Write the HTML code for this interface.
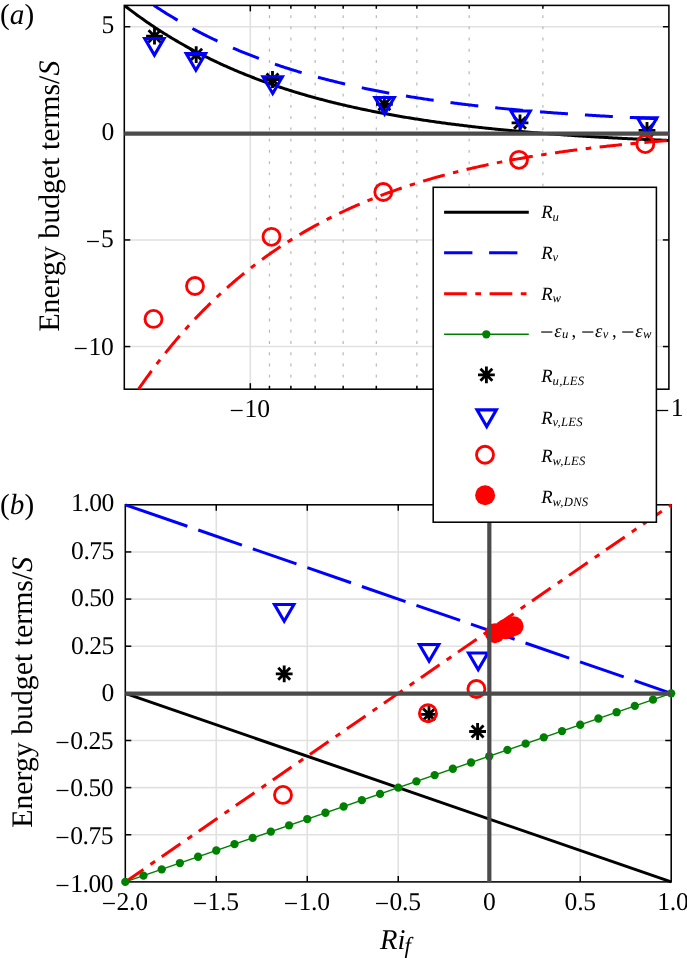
<!DOCTYPE html>
<html lang="en"><head><meta charset="utf-8"><title>Energy budget terms</title>
<style>html,body{margin:0;padding:0;background:#fff}svg{display:block;will-change:transform}text{font-family:"Liberation Serif", "DejaVu Serif", serif;fill:#000;text-rendering:geometricPrecision}</style>
</head><body>
<svg width="687" height="958" viewBox="0 0 687 958">
<rect width="687" height="958" fill="#fff"/>
<defs>
<clipPath id="ct"><rect x="124.3" y="5.4" width="544.6" height="383.8"/></clipPath>
</defs>
<g id="panel-a">
<line x1="124.3" y1="26.72" x2="668.9" y2="26.72" stroke="#e1e1e1" stroke-width="1.6"/>
<line x1="124.3" y1="239.94" x2="668.9" y2="239.94" stroke="#e1e1e1" stroke-width="1.6"/>
<line x1="124.3" y1="346.56" x2="668.9" y2="346.56" stroke="#e1e1e1" stroke-width="1.6"/>
<line x1="250.31" y1="5.4" x2="250.31" y2="389.2" stroke="#e1e1e1" stroke-width="1.6"/>
<line x1="269.46" y1="5.4" x2="269.46" y2="389.2" stroke="#b8b8b8" stroke-width="1.2" stroke-dasharray="2.8 8.44" stroke-dashoffset="1.5"/>
<line x1="290.87" y1="5.4" x2="290.87" y2="389.2" stroke="#b8b8b8" stroke-width="1.2" stroke-dasharray="2.8 8.44" stroke-dashoffset="1.5"/>
<line x1="315.15" y1="5.4" x2="315.15" y2="389.2" stroke="#b8b8b8" stroke-width="1.2" stroke-dasharray="2.8 8.44" stroke-dashoffset="1.5"/>
<line x1="343.17" y1="5.4" x2="343.17" y2="389.2" stroke="#b8b8b8" stroke-width="1.2" stroke-dasharray="2.8 8.44" stroke-dashoffset="1.5"/>
<line x1="376.32" y1="5.4" x2="376.32" y2="389.2" stroke="#b8b8b8" stroke-width="1.2" stroke-dasharray="2.8 8.44" stroke-dashoffset="1.5"/>
<line x1="416.88" y1="5.4" x2="416.88" y2="389.2" stroke="#b8b8b8" stroke-width="1.2" stroke-dasharray="2.8 8.44" stroke-dashoffset="1.5"/>
<line x1="469.18" y1="5.4" x2="469.18" y2="389.2" stroke="#b8b8b8" stroke-width="1.2" stroke-dasharray="2.8 8.44" stroke-dashoffset="1.5"/>
<line x1="542.89" y1="5.4" x2="542.89" y2="389.2" stroke="#b8b8b8" stroke-width="1.2" stroke-dasharray="2.8 8.44" stroke-dashoffset="1.5"/>
<rect x="124.3" y="5.4" width="544.6" height="383.8" fill="none" stroke="#000" stroke-width="1.55"/>
<line x1="124.3" y1="26.72" x2="130.3" y2="26.72" stroke="#000" stroke-width="1.5"/>
<line x1="668.9" y1="26.72" x2="662.9" y2="26.72" stroke="#000" stroke-width="1.5"/>
<line x1="124.3" y1="133.33" x2="130.3" y2="133.33" stroke="#000" stroke-width="1.5"/>
<line x1="668.9" y1="133.33" x2="662.9" y2="133.33" stroke="#000" stroke-width="1.5"/>
<line x1="124.3" y1="239.94" x2="130.3" y2="239.94" stroke="#000" stroke-width="1.5"/>
<line x1="668.9" y1="239.94" x2="662.9" y2="239.94" stroke="#000" stroke-width="1.5"/>
<line x1="124.3" y1="346.56" x2="130.3" y2="346.56" stroke="#000" stroke-width="1.5"/>
<line x1="668.9" y1="346.56" x2="662.9" y2="346.56" stroke="#000" stroke-width="1.5"/>
<line x1="250.31" y1="5.4" x2="250.31" y2="11.4" stroke="#000" stroke-width="1.5"/>
<line x1="250.31" y1="389.2" x2="250.31" y2="383.2" stroke="#000" stroke-width="1.5"/>
<line x1="269.46" y1="5.4" x2="269.46" y2="8.8" stroke="#000" stroke-width="1.5"/>
<line x1="269.46" y1="389.2" x2="269.46" y2="385.8" stroke="#000" stroke-width="1.5"/>
<line x1="290.87" y1="5.4" x2="290.87" y2="8.8" stroke="#000" stroke-width="1.5"/>
<line x1="290.87" y1="389.2" x2="290.87" y2="385.8" stroke="#000" stroke-width="1.5"/>
<line x1="315.15" y1="5.4" x2="315.15" y2="8.8" stroke="#000" stroke-width="1.5"/>
<line x1="315.15" y1="389.2" x2="315.15" y2="385.8" stroke="#000" stroke-width="1.5"/>
<line x1="343.17" y1="5.4" x2="343.17" y2="8.8" stroke="#000" stroke-width="1.5"/>
<line x1="343.17" y1="389.2" x2="343.17" y2="385.8" stroke="#000" stroke-width="1.5"/>
<line x1="376.32" y1="5.4" x2="376.32" y2="8.8" stroke="#000" stroke-width="1.5"/>
<line x1="376.32" y1="389.2" x2="376.32" y2="385.8" stroke="#000" stroke-width="1.5"/>
<line x1="416.88" y1="5.4" x2="416.88" y2="8.8" stroke="#000" stroke-width="1.5"/>
<line x1="416.88" y1="389.2" x2="416.88" y2="385.8" stroke="#000" stroke-width="1.5"/>
<line x1="469.18" y1="5.4" x2="469.18" y2="8.8" stroke="#000" stroke-width="1.5"/>
<line x1="469.18" y1="389.2" x2="469.18" y2="385.8" stroke="#000" stroke-width="1.5"/>
<line x1="542.89" y1="5.4" x2="542.89" y2="8.8" stroke="#000" stroke-width="1.5"/>
<line x1="542.89" y1="389.2" x2="542.89" y2="385.8" stroke="#000" stroke-width="1.5"/>
<g clip-path="url(#ct)" fill="none" stroke-width="3">
<path d="M124.3 5.4L125.66 6.46L127.02 7.51L128.38 8.56L129.75 9.6L131.11 10.62L132.47 11.65L133.83 12.66L135.19 13.67L136.55 14.67L137.92 15.66L139.28 16.64L140.64 17.62L142 18.59L143.36 19.55L144.72 20.5L146.08 21.45L147.45 22.39L148.81 23.33L150.17 24.25L151.53 25.17L152.89 26.09L154.25 26.99L155.61 27.89L156.98 28.79L158.34 29.67L159.7 30.55L161.06 31.42L162.42 32.29L163.78 33.15L165.15 34L166.51 34.85L167.87 35.69L169.23 36.53L170.59 37.36L171.95 38.18L173.31 38.99L174.68 39.8L176.04 40.61L177.4 41.41L178.76 42.2L180.12 42.98L181.48 43.76L182.84 44.54L184.21 45.31L185.57 46.07L186.93 46.83L188.29 47.58L189.65 48.32L191.01 49.06L192.38 49.8L193.74 50.53L195.1 51.25L196.46 51.97L197.82 52.68L199.18 53.39L200.54 54.09L201.91 54.79L203.27 55.48L204.63 56.17L205.99 56.85L207.35 57.53L208.71 58.2L210.07 58.87L211.44 59.53L212.8 60.19L214.16 60.84L215.52 61.48L216.88 62.13L218.24 62.76L219.6 63.4L220.97 64.02L222.33 64.65L223.69 65.27L225.05 65.88L226.41 66.49L227.77 67.09L229.14 67.69L230.5 68.29L231.86 68.88L233.22 69.47L234.58 70.05L235.94 70.63L237.3 71.2L238.67 71.77L240.03 72.34L241.39 72.9L242.75 73.46L244.11 74.01L245.47 74.56L246.83 75.1L248.2 75.64L249.56 76.18L250.92 76.71L252.28 77.24L253.64 77.77L255 78.29L256.37 78.8L257.73 79.32L259.09 79.83L260.45 80.33L261.81 80.83L263.17 81.33L264.53 81.82L265.9 82.31L267.26 82.8L268.62 83.28L269.98 83.76L271.34 84.24L272.7 84.71L274.06 85.18L275.43 85.65L276.79 86.11L278.15 86.57L279.51 87.02L280.87 87.47L282.23 87.92L283.6 88.37L284.96 88.81L286.32 89.25L287.68 89.68L289.04 90.11L290.4 90.54L291.76 90.97L293.13 91.39L294.49 91.81L295.85 92.22L297.21 92.64L298.57 93.05L299.93 93.45L301.3 93.86L302.66 94.26L304.02 94.65L305.38 95.05L306.74 95.44L308.1 95.83L309.46 96.22L310.83 96.6L312.19 96.98L313.55 97.36L314.91 97.73L316.27 98.1L317.63 98.47L318.99 98.84L320.36 99.2L321.72 99.56L323.08 99.92L324.44 100.28L325.8 100.63L327.16 100.98L328.53 101.33L329.89 101.67L331.25 102.01L332.61 102.35L333.97 102.69L335.33 103.02L336.69 103.36L338.06 103.69L339.42 104.01L340.78 104.34L342.14 104.66L343.5 104.98L344.86 105.3L346.22 105.61L347.59 105.93L348.95 106.24L350.31 106.55L351.67 106.85L353.03 107.15L354.39 107.46L355.75 107.76L357.12 108.05L358.48 108.35L359.84 108.64L361.2 108.93L362.56 109.22L363.92 109.5L365.29 109.79L366.65 110.07L368.01 110.35L369.37 110.63L370.73 110.9L372.09 111.18L373.45 111.45L374.82 111.72L376.18 111.98L377.54 112.25L378.9 112.51L380.26 112.77L381.62 113.03L382.99 113.29L384.35 113.55L385.71 113.8L387.07 114.05L388.43 114.3L389.79 114.55L391.15 114.8L392.52 115.04L393.88 115.28L395.24 115.52L396.6 115.76L397.96 116L399.32 116.24L400.68 116.47L402.05 116.7L403.41 116.93L404.77 117.16L406.13 117.39L407.49 117.61L408.85 117.83L410.22 118.06L411.58 118.28L412.94 118.49L414.3 118.71L415.66 118.93L417.02 119.14L418.38 119.35L419.75 119.56L421.11 119.77L422.47 119.98L423.83 120.18L425.19 120.39L426.55 120.59L427.91 120.79L429.28 120.99L430.64 121.19L432 121.39L433.36 121.58L434.72 121.78L436.08 121.97L437.45 122.16L438.81 122.35L440.17 122.54L441.53 122.72L442.89 122.91L444.25 123.09L445.61 123.27L446.98 123.46L448.34 123.64L449.7 123.81L451.06 123.99L452.42 124.17L453.78 124.34L455.14 124.51L456.51 124.69L457.87 124.86L459.23 125.03L460.59 125.19L461.95 125.36L463.31 125.53L464.68 125.69L466.04 125.85L467.4 126.02L468.76 126.18L470.12 126.34L471.48 126.49L472.84 126.65L474.21 126.81L475.57 126.96L476.93 127.12L478.29 127.27L479.65 127.42L481.01 127.57L482.37 127.72L483.74 127.87L485.1 128.01L486.46 128.16L487.82 128.3L489.18 128.45L490.54 128.59L491.91 128.73L493.27 128.87L494.63 129.01L495.99 129.15L497.35 129.29L498.71 129.42L500.07 129.56L501.44 129.69L502.8 129.83L504.16 129.96L505.52 130.09L506.88 130.22L508.24 130.35L509.6 130.48L510.97 130.6L512.33 130.73L513.69 130.86L515.05 130.98L516.41 131.1L517.77 131.23L519.13 131.35L520.5 131.47L521.86 131.59L523.22 131.71L524.58 131.83L525.94 131.94L527.3 132.06L528.67 132.18L530.03 132.29L531.39 132.4L532.75 132.52L534.11 132.63L535.47 132.74L536.83 132.85L538.2 132.96L539.56 133.07L540.92 133.18L542.28 133.29L543.64 133.39L545 133.5L546.37 133.6L547.73 133.71L549.09 133.81L550.45 133.91L551.81 134.01L553.17 134.11L554.53 134.22L555.9 134.31L557.26 134.41L558.62 134.51L559.98 134.61L561.34 134.71L562.7 134.8L564.06 134.9L565.43 134.99L566.79 135.08L568.15 135.18L569.51 135.27L570.87 135.36L572.23 135.45L573.6 135.54L574.96 135.63L576.32 135.72L577.68 135.81L579.04 135.9L580.4 135.98L581.76 136.07L583.13 136.16L584.49 136.24L585.85 136.32L587.21 136.41L588.57 136.49L589.93 136.57L591.29 136.66L592.66 136.74L594.02 136.82L595.38 136.9L596.74 136.98L598.1 137.06L599.46 137.13L600.82 137.21L602.19 137.29L603.55 137.37L604.91 137.44L606.27 137.52L607.63 137.59L608.99 137.67L610.36 137.74L611.72 137.81L613.08 137.89L614.44 137.96L615.8 138.03L617.16 138.1L618.52 138.17L619.89 138.24L621.25 138.31L622.61 138.38L623.97 138.45L625.33 138.52L626.69 138.58L628.05 138.65L629.42 138.72L630.78 138.78L632.14 138.85L633.5 138.91L634.86 138.98L636.22 139.04L637.59 139.1L638.95 139.17L640.31 139.23L641.67 139.29L643.03 139.35L644.39 139.42L645.75 139.48L647.12 139.54L648.48 139.6L649.84 139.66L651.2 139.71L652.56 139.77L653.92 139.83L655.28 139.89L656.65 139.95L658.01 140L659.37 140.06L660.73 140.11L662.09 140.17L663.45 140.22L664.82 140.28L666.18 140.33L667.54 140.39L668.9 140.44" stroke="#000"/>
<path d="M153.84 5.4L155.13 6.25L156.42 7.1L157.71 7.94L159 8.78L160.28 9.6L161.57 10.43L162.86 11.24L164.15 12.06L165.43 12.86L166.72 13.66L168.01 14.46L169.3 15.25L170.58 16.03L171.87 16.81L173.16 17.58L174.45 18.35L175.73 19.11L177.02 19.86L178.31 20.61L179.6 21.36L180.89 22.1L182.17 22.83L183.46 23.56L184.75 24.29L186.04 25.01L187.32 25.72L188.61 26.43L189.9 27.14L191.19 27.84L192.47 28.53L193.76 29.22L195.05 29.9L196.34 30.58L197.62 31.26L198.91 31.93L200.2 32.59L201.49 33.26L202.77 33.91L204.06 34.56L205.35 35.21L206.64 35.85L207.93 36.49L209.21 37.12L210.5 37.75L211.79 38.38L213.08 39L214.36 39.61L215.65 40.22L216.94 40.83L218.23 41.43L219.51 42.03L220.8 42.63L222.09 43.22L223.38 43.8L224.66 44.38L225.95 44.96L227.24 45.54L228.53 46.11L229.82 46.67L231.1 47.23L232.39 47.79L233.68 48.34L234.97 48.89L236.25 49.44L237.54 49.98L238.83 50.52L240.12 51.05L241.4 51.58L242.69 52.11L243.98 52.63L245.27 53.15L246.55 53.67L247.84 54.18L249.13 54.69L250.42 55.19L251.71 55.7L252.99 56.19L254.28 56.69L255.57 57.18L256.86 57.67L258.14 58.15L259.43 58.63L260.72 59.11L262.01 59.58L263.29 60.05L264.58 60.52L265.87 60.98L267.16 61.44L268.44 61.9L269.73 62.35L271.02 62.8L272.31 63.25L273.6 63.7L274.88 64.14L276.17 64.58L277.46 65.01L278.75 65.44L280.03 65.87L281.32 66.3L282.61 66.72L283.9 67.14L285.18 67.56L286.47 67.97L287.76 68.38L289.05 68.79L290.33 69.2L291.62 69.6L292.91 70L294.2 70.4L295.48 70.79L296.77 71.18L298.06 71.57L299.35 71.96L300.64 72.34L301.92 72.72L303.21 73.1L304.5 73.47L305.79 73.84L307.07 74.21L308.36 74.58L309.65 74.95L310.94 75.31L312.22 75.67L313.51 76.02L314.8 76.38L316.09 76.73L317.37 77.08L318.66 77.43L319.95 77.77L321.24 78.11L322.53 78.45L323.81 78.79L325.1 79.12L326.39 79.46L327.68 79.79L328.96 80.11L330.25 80.44L331.54 80.76L332.83 81.08L334.11 81.4L335.4 81.72L336.69 82.03L337.98 82.35L339.26 82.65L340.55 82.96L341.84 83.27L343.13 83.57L344.42 83.87L345.7 84.17L346.99 84.47L348.28 84.76L349.57 85.06L350.85 85.35L352.14 85.63L353.43 85.92L354.72 86.21L356 86.49L357.29 86.77L358.58 87.05L359.87 87.32L361.15 87.6L362.44 87.87L363.73 88.14L365.02 88.41L366.3 88.68L367.59 88.94L368.88 89.2L370.17 89.47L371.46 89.73L372.74 89.98L374.03 90.24L375.32 90.49L376.61 90.75L377.89 91L379.18 91.24L380.47 91.49L381.76 91.74L383.04 91.98L384.33 92.22L385.62 92.46L386.91 92.7L388.19 92.94L389.48 93.17L390.77 93.4L392.06 93.64L393.35 93.87L394.63 94.09L395.92 94.32L397.21 94.55L398.5 94.77L399.78 94.99L401.07 95.21L402.36 95.43L403.65 95.65L404.93 95.86L406.22 96.08L407.51 96.29L408.8 96.5L410.08 96.71L411.37 96.92L412.66 97.13L413.95 97.33L415.24 97.54L416.52 97.74L417.81 97.94L419.1 98.14L420.39 98.34L421.67 98.54L422.96 98.73L424.25 98.93L425.54 99.12L426.82 99.31L428.11 99.5L429.4 99.69L430.69 99.88L431.97 100.06L433.26 100.25L434.55 100.43L435.84 100.61L437.13 100.79L438.41 100.97L439.7 101.15L440.99 101.33L442.28 101.5L443.56 101.68L444.85 101.85L446.14 102.02L447.43 102.19L448.71 102.36L450 102.53L451.29 102.7L452.58 102.86L453.86 103.03L455.15 103.19L456.44 103.36L457.73 103.52L459.01 103.68L460.3 103.84L461.59 103.99L462.88 104.15L464.17 104.31L465.45 104.46L466.74 104.62L468.03 104.77L469.32 104.92L470.6 105.07L471.89 105.22L473.18 105.37L474.47 105.51L475.75 105.66L477.04 105.81L478.33 105.95L479.62 106.09L480.9 106.24L482.19 106.38L483.48 106.52L484.77 106.66L486.06 106.79L487.34 106.93L488.63 107.07L489.92 107.2L491.21 107.34L492.49 107.47L493.78 107.6L495.07 107.73L496.36 107.86L497.64 107.99L498.93 108.12L500.22 108.25L501.51 108.38L502.79 108.5L504.08 108.63L505.37 108.75L506.66 108.88L507.95 109L509.23 109.12L510.52 109.24L511.81 109.36L513.1 109.48L514.38 109.6L515.67 109.72L516.96 109.83L518.25 109.95L519.53 110.06L520.82 110.18L522.11 110.29L523.4 110.4L524.68 110.51L525.97 110.62L527.26 110.73L528.55 110.84L529.84 110.95L531.12 111.06L532.41 111.17L533.7 111.27L534.99 111.38L536.27 111.48L537.56 111.59L538.85 111.69L540.14 111.79L541.42 111.9L542.71 112L544 112.1L545.29 112.2L546.57 112.3L547.86 112.39L549.15 112.49L550.44 112.59L551.72 112.69L553.01 112.78L554.3 112.88L555.59 112.97L556.88 113.06L558.16 113.16L559.45 113.25L560.74 113.34L562.03 113.43L563.31 113.52L564.6 113.61L565.89 113.7L567.18 113.79L568.46 113.88L569.75 113.96L571.04 114.05L572.33 114.14L573.61 114.22L574.9 114.31L576.19 114.39L577.48 114.47L578.77 114.56L580.05 114.64L581.34 114.72L582.63 114.8L583.92 114.88L585.2 114.96L586.49 115.04L587.78 115.12L589.07 115.2L590.35 115.28L591.64 115.35L592.93 115.43L594.22 115.51L595.5 115.58L596.79 115.66L598.08 115.73L599.37 115.81L600.66 115.88L601.94 115.95L603.23 116.03L604.52 116.1L605.81 116.17L607.09 116.24L608.38 116.31L609.67 116.38L610.96 116.45L612.24 116.52L613.53 116.59L614.82 116.66L616.11 116.72L617.39 116.79L618.68 116.86L619.97 116.92L621.26 116.99L622.55 117.05L623.83 117.12L625.12 117.18L626.41 117.25L627.7 117.31L628.98 117.37L630.27 117.44L631.56 117.5L632.85 117.56L634.13 117.62L635.42 117.68L636.71 117.74L638 117.8L639.28 117.86L640.57 117.92L641.86 117.98L643.15 118.04L644.43 118.09L645.72 118.15L647.01 118.21L648.3 118.27L649.59 118.32L650.87 118.38L652.16 118.43L653.45 118.49L654.74 118.54L656.02 118.6L657.31 118.65L658.6 118.7L659.89 118.76L661.17 118.81L662.46 118.86L663.75 118.91L665.04 118.97L666.32 119.02L667.61 119.07L668.9 119.12" stroke="#0000ff" stroke-dasharray="28 17"/>
<path d="M138.47 389.2L139.8 387.29L141.12 385.39L142.45 383.51L143.78 381.64L145.1 379.78L146.43 377.94L147.76 376.11L149.08 374.29L150.41 372.49L151.73 370.7L153.06 368.92L154.39 367.16L155.71 365.41L157.04 363.67L158.36 361.94L159.69 360.23L161.02 358.53L162.34 356.84L163.67 355.17L164.99 353.5L166.32 351.85L167.65 350.21L168.97 348.58L170.3 346.97L171.62 345.36L172.95 343.77L174.28 342.19L175.6 340.62L176.93 339.06L178.25 337.51L179.58 335.98L180.91 334.45L182.23 332.94L183.56 331.44L184.89 329.95L186.21 328.47L187.54 327L188.86 325.54L190.19 324.09L191.52 322.65L192.84 321.22L194.17 319.81L195.49 318.4L196.82 317L198.15 315.62L199.47 314.24L200.8 312.87L202.12 311.52L203.45 310.17L204.78 308.83L206.1 307.51L207.43 306.19L208.75 304.88L210.08 303.58L211.41 302.29L212.73 301.01L214.06 299.74L215.38 298.48L216.71 297.23L218.04 295.99L219.36 294.75L220.69 293.53L222.02 292.31L223.34 291.1L224.67 289.91L225.99 288.72L227.32 287.54L228.65 286.36L229.97 285.2L231.3 284.04L232.62 282.9L233.95 281.76L235.28 280.63L236.6 279.51L237.93 278.39L239.25 277.29L240.58 276.19L241.91 275.1L243.23 274.02L244.56 272.94L245.88 271.88L247.21 270.82L248.54 269.77L249.86 268.72L251.19 267.69L252.51 266.66L253.84 265.64L255.17 264.63L256.49 263.62L257.82 262.62L259.14 261.63L260.47 260.65L261.8 259.67L263.12 258.7L264.45 257.74L265.78 256.78L267.1 255.83L268.43 254.89L269.75 253.95L271.08 253.03L272.41 252.1L273.73 251.19L275.06 250.28L276.38 249.38L277.71 248.48L279.04 247.6L280.36 246.71L281.69 245.84L283.01 244.97L284.34 244.11L285.67 243.25L286.99 242.4L288.32 241.55L289.64 240.72L290.97 239.88L292.3 239.06L293.62 238.24L294.95 237.42L296.27 236.62L297.6 235.81L298.93 235.02L300.25 234.23L301.58 233.44L302.91 232.66L304.23 231.89L305.56 231.12L306.88 230.36L308.21 229.6L309.54 228.85L310.86 228.1L312.19 227.36L313.51 226.63L314.84 225.9L316.17 225.17L317.49 224.46L318.82 223.74L320.14 223.03L321.47 222.33L322.8 221.63L324.12 220.94L325.45 220.25L326.77 219.57L328.1 218.89L329.43 218.21L330.75 217.55L332.08 216.88L333.4 216.22L334.73 215.57L336.06 214.92L337.38 214.27L338.71 213.63L340.04 213L341.36 212.37L342.69 211.74L344.01 211.12L345.34 210.5L346.67 209.89L347.99 209.28L349.32 208.68L350.64 208.08L351.97 207.49L353.3 206.9L354.62 206.31L355.95 205.73L357.27 205.15L358.6 204.58L359.93 204.01L361.25 203.44L362.58 202.88L363.9 202.32L365.23 201.77L366.56 201.22L367.88 200.68L369.21 200.13L370.53 199.6L371.86 199.06L373.19 198.53L374.51 198.01L375.84 197.49L377.17 196.97L378.49 196.46L379.82 195.94L381.14 195.44L382.47 194.93L383.8 194.44L385.12 193.94L386.45 193.45L387.77 192.96L389.1 192.47L390.43 191.99L391.75 191.51L393.08 191.04L394.4 190.57L395.73 190.1L397.06 189.64L398.38 189.18L399.71 188.72L401.03 188.26L402.36 187.81L403.69 187.37L405.01 186.92L406.34 186.48L407.66 186.04L408.99 185.61L410.32 185.18L411.64 184.75L412.97 184.32L414.29 183.9L415.62 183.48L416.95 183.07L418.27 182.65L419.6 182.24L420.93 181.83L422.25 181.43L423.58 181.03L424.9 180.63L426.23 180.24L427.56 179.84L428.88 179.45L430.21 179.07L431.53 178.68L432.86 178.3L434.19 177.92L435.51 177.55L436.84 177.17L438.16 176.8L439.49 176.44L440.82 176.07L442.14 175.71L443.47 175.35L444.79 174.99L446.12 174.64L447.45 174.29L448.77 173.94L450.1 173.59L451.42 173.25L452.75 172.9L454.08 172.56L455.4 172.23L456.73 171.89L458.06 171.56L459.38 171.23L460.71 170.91L462.03 170.58L463.36 170.26L464.69 169.94L466.01 169.62L467.34 169.31L468.66 168.99L469.99 168.68L471.32 168.37L472.64 168.07L473.97 167.76L475.29 167.46L476.62 167.16L477.95 166.86L479.27 166.57L480.6 166.27L481.92 165.98L483.25 165.69L484.58 165.41L485.9 165.12L487.23 164.84L488.55 164.56L489.88 164.28L491.21 164L492.53 163.73L493.86 163.46L495.19 163.19L496.51 162.92L497.84 162.65L499.16 162.39L500.49 162.12L501.82 161.86L503.14 161.6L504.47 161.35L505.79 161.09L507.12 160.84L508.45 160.59L509.77 160.34L511.1 160.09L512.42 159.84L513.75 159.6L515.08 159.36L516.4 159.12L517.73 158.88L519.05 158.64L520.38 158.4L521.71 158.17L523.03 157.94L524.36 157.71L525.68 157.48L527.01 157.25L528.34 157.03L529.66 156.8L530.99 156.58L532.31 156.36L533.64 156.14L534.97 155.92L536.29 155.71L537.62 155.49L538.95 155.28L540.27 155.07L541.6 154.86L542.92 154.65L544.25 154.44L545.58 154.24L546.9 154.04L548.23 153.83L549.55 153.63L550.88 153.43L552.21 153.24L553.53 153.04L554.86 152.84L556.18 152.65L557.51 152.46L558.84 152.27L560.16 152.08L561.49 151.89L562.81 151.7L564.14 151.52L565.47 151.34L566.79 151.15L568.12 150.97L569.44 150.79L570.77 150.61L572.1 150.44L573.42 150.26L574.75 150.09L576.08 149.91L577.4 149.74L578.73 149.57L580.05 149.4L581.38 149.23L582.71 149.06L584.03 148.9L585.36 148.73L586.68 148.57L588.01 148.41L589.34 148.25L590.66 148.09L591.99 147.93L593.31 147.77L594.64 147.61L595.97 147.46L597.29 147.3L598.62 147.15L599.94 147L601.27 146.85L602.6 146.7L603.92 146.55L605.25 146.4L606.57 146.25L607.9 146.11L609.23 145.96L610.55 145.82L611.88 145.68L613.21 145.54L614.53 145.4L615.86 145.26L617.18 145.12L618.51 144.98L619.84 144.84L621.16 144.71L622.49 144.58L623.81 144.44L625.14 144.31L626.47 144.18L627.79 144.05L629.12 143.92L630.44 143.79L631.77 143.66L633.1 143.54L634.42 143.41L635.75 143.28L637.07 143.16L638.4 143.04L639.73 142.92L641.05 142.79L642.38 142.67L643.7 142.55L645.03 142.44L646.36 142.32L647.68 142.2L649.01 142.08L650.34 141.97L651.66 141.85L652.99 141.74L654.31 141.63L655.64 141.52L656.97 141.41L658.29 141.29L659.62 141.19L660.94 141.08L662.27 140.97L663.6 140.86L664.92 140.76L666.25 140.65L667.57 140.54L668.9 140.44" stroke="#ff0000" stroke-dasharray="22.5 8.5 5.5 8.5"/>
</g>
<path d="M146.1 36.2H162.9M154.5 27.8V44.6M148.56 30.26L160.44 42.14M148.56 42.14L160.44 30.26" stroke="#000" stroke-width="2.85" fill="none"/>
<path d="M187.8 54.7H204.6M196.2 46.3V63.1M190.26 48.76L202.14 60.64M190.26 60.64L202.14 48.76" stroke="#000" stroke-width="2.85" fill="none"/>
<path d="M264.1 79.5H280.9M272.5 71.1V87.9M266.56 73.56L278.44 85.44M266.56 85.44L278.44 73.56" stroke="#000" stroke-width="2.85" fill="none"/>
<path d="M376 104.2H392.8M384.4 95.8V112.6M378.46 98.26L390.34 110.14M378.46 110.14L390.34 98.26" stroke="#000" stroke-width="2.85" fill="none"/>
<path d="M511.6 122.9H528.4M520 114.5V131.3M514.06 116.96L525.94 128.84M514.06 128.84L525.94 116.96" stroke="#000" stroke-width="2.85" fill="none"/>
<path d="M638.6 130.3H655.4M647 121.9V138.7M641.06 124.36L652.94 136.24M641.06 136.24L652.94 124.36" stroke="#000" stroke-width="2.85" fill="none"/>
<path d="M144.7 38.45H164.1L154.4 55.15Z" stroke="#0000ff" stroke-width="3.1" fill="none" stroke-linejoin="miter"/>
<path d="M186.2 53.55H205.6L195.9 70.25Z" stroke="#0000ff" stroke-width="3.1" fill="none" stroke-linejoin="miter"/>
<path d="M263 76.75H282.4L272.7 93.45Z" stroke="#0000ff" stroke-width="3.1" fill="none" stroke-linejoin="miter"/>
<path d="M374.9 97.45H394.3L384.6 114.15Z" stroke="#0000ff" stroke-width="3.1" fill="none" stroke-linejoin="miter"/>
<path d="M510.9 110.95H530.3L520.6 127.65Z" stroke="#0000ff" stroke-width="3.1" fill="none" stroke-linejoin="miter"/>
<path d="M637.5 117.85H656.9L647.2 134.55Z" stroke="#0000ff" stroke-width="3.1" fill="none" stroke-linejoin="miter"/>
<circle cx="153.5" cy="318.9" r="8.5" stroke="#ff0000" stroke-width="2.85" fill="none"/>
<circle cx="195" cy="286" r="8.5" stroke="#ff0000" stroke-width="2.85" fill="none"/>
<circle cx="271.5" cy="236.8" r="8.5" stroke="#ff0000" stroke-width="2.85" fill="none"/>
<circle cx="383.3" cy="192" r="8.5" stroke="#ff0000" stroke-width="2.85" fill="none"/>
<circle cx="519" cy="159.8" r="8.5" stroke="#ff0000" stroke-width="2.85" fill="none"/>
<circle cx="645.3" cy="144.1" r="8.5" stroke="#ff0000" stroke-width="2.85" fill="none"/>
<line x1="124.3" y1="133.53" x2="668.9" y2="133.53" stroke="#4b4b4b" stroke-width="4.2"/>
<text x="113.9" y="33" font-size="25.6" text-anchor="end" letter-spacing="-0.5">5</text>
<text x="113.9" y="140.2" font-size="25.6" text-anchor="end" letter-spacing="-0.5">0</text>
<text x="113.2" y="247.4" font-size="25.6" text-anchor="end" letter-spacing="-0.5"><tspan dy="2.4">−</tspan><tspan dy="-2.4" dx="1.2">5</tspan></text>
<text x="113.2" y="354.6" font-size="25.6" text-anchor="end" letter-spacing="-0.5"><tspan dy="2.4">−</tspan><tspan dy="-2.4" dx="1.2">10</tspan></text>
<text x="249.71" y="416.6" font-size="25.6" text-anchor="middle"><tspan dy="2.4">−</tspan><tspan dy="-2.4" dx="0.6">10</tspan></text>
<text x="669.3" y="416.3" font-size="25.6" text-anchor="middle"><tspan dy="2.4">−</tspan><tspan dy="-2.4" dx="1.2">1</tspan></text>
<text x="0.1" y="24" font-size="29.2" text-anchor="start">(<tspan font-style="italic">a</tspan>)</text>
<text transform="translate(59.1 331.6) rotate(-90)" font-size="29.8">Energy budget terms/<tspan font-style="italic">S</tspan></text>
</g>
<g id="panel-b">
<line x1="125.3" y1="551.94" x2="671.2" y2="551.94" stroke="#e1e1e1" stroke-width="1.6"/>
<line x1="125.3" y1="599.08" x2="671.2" y2="599.08" stroke="#e1e1e1" stroke-width="1.6"/>
<line x1="125.3" y1="646.21" x2="671.2" y2="646.21" stroke="#e1e1e1" stroke-width="1.6"/>
<line x1="125.3" y1="740.49" x2="671.2" y2="740.49" stroke="#e1e1e1" stroke-width="1.6"/>
<line x1="125.3" y1="787.62" x2="671.2" y2="787.62" stroke="#e1e1e1" stroke-width="1.6"/>
<line x1="125.3" y1="834.76" x2="671.2" y2="834.76" stroke="#e1e1e1" stroke-width="1.6"/>
<line x1="216.28" y1="504.8" x2="216.28" y2="881.9" stroke="#e1e1e1" stroke-width="1.6"/>
<line x1="307.27" y1="504.8" x2="307.27" y2="881.9" stroke="#e1e1e1" stroke-width="1.6"/>
<line x1="398.25" y1="504.8" x2="398.25" y2="881.9" stroke="#e1e1e1" stroke-width="1.6"/>
<line x1="580.22" y1="504.8" x2="580.22" y2="881.9" stroke="#e1e1e1" stroke-width="1.6"/>
<rect x="125.3" y="504.8" width="545.9" height="377.1" fill="none" stroke="#000" stroke-width="1.55"/>
<line x1="125.3" y1="551.94" x2="131.3" y2="551.94" stroke="#000" stroke-width="1.5"/>
<line x1="671.2" y1="551.94" x2="665.2" y2="551.94" stroke="#000" stroke-width="1.5"/>
<line x1="125.3" y1="599.08" x2="131.3" y2="599.08" stroke="#000" stroke-width="1.5"/>
<line x1="671.2" y1="599.08" x2="665.2" y2="599.08" stroke="#000" stroke-width="1.5"/>
<line x1="125.3" y1="646.21" x2="131.3" y2="646.21" stroke="#000" stroke-width="1.5"/>
<line x1="671.2" y1="646.21" x2="665.2" y2="646.21" stroke="#000" stroke-width="1.5"/>
<line x1="125.3" y1="693.35" x2="131.3" y2="693.35" stroke="#000" stroke-width="1.5"/>
<line x1="671.2" y1="693.35" x2="665.2" y2="693.35" stroke="#000" stroke-width="1.5"/>
<line x1="125.3" y1="740.49" x2="131.3" y2="740.49" stroke="#000" stroke-width="1.5"/>
<line x1="671.2" y1="740.49" x2="665.2" y2="740.49" stroke="#000" stroke-width="1.5"/>
<line x1="125.3" y1="787.62" x2="131.3" y2="787.62" stroke="#000" stroke-width="1.5"/>
<line x1="671.2" y1="787.62" x2="665.2" y2="787.62" stroke="#000" stroke-width="1.5"/>
<line x1="125.3" y1="834.76" x2="131.3" y2="834.76" stroke="#000" stroke-width="1.5"/>
<line x1="671.2" y1="834.76" x2="665.2" y2="834.76" stroke="#000" stroke-width="1.5"/>
<line x1="216.28" y1="504.8" x2="216.28" y2="510.8" stroke="#000" stroke-width="1.5"/>
<line x1="216.28" y1="881.9" x2="216.28" y2="875.9" stroke="#000" stroke-width="1.5"/>
<line x1="307.27" y1="504.8" x2="307.27" y2="510.8" stroke="#000" stroke-width="1.5"/>
<line x1="307.27" y1="881.9" x2="307.27" y2="875.9" stroke="#000" stroke-width="1.5"/>
<line x1="398.25" y1="504.8" x2="398.25" y2="510.8" stroke="#000" stroke-width="1.5"/>
<line x1="398.25" y1="881.9" x2="398.25" y2="875.9" stroke="#000" stroke-width="1.5"/>
<line x1="489.23" y1="504.8" x2="489.23" y2="510.8" stroke="#000" stroke-width="1.5"/>
<line x1="489.23" y1="881.9" x2="489.23" y2="875.9" stroke="#000" stroke-width="1.5"/>
<line x1="580.22" y1="504.8" x2="580.22" y2="510.8" stroke="#000" stroke-width="1.5"/>
<line x1="580.22" y1="881.9" x2="580.22" y2="875.9" stroke="#000" stroke-width="1.5"/>
<g fill="none" stroke-width="3">
<path d="M125.3 693.35L671.2 881.9" stroke="#000"/>
<path d="M125.3 504.8L671.2 693.35" stroke="#0000ff" stroke-dasharray="65.7 11.5 46.2 11.5 46.2 11.5 46.2 11.5 46.2 11.5 46.2 11.5 46.2 11.5 46.2 11.5 46.2 11.5 200 0"/>
<path d="M125.3 881.9L671.2 504.8" stroke="#ff0000" stroke-dasharray="22.7 8.6 5.6 8.1" stroke-dashoffset="0.7"/>
</g>
<path d="M275.8 673.8H292.6M284.2 665.4V682.2M278.26 667.86L290.14 679.74M278.26 679.74L290.14 667.86" stroke="#000" stroke-width="2.85" fill="none"/>
<path d="M420.6 714.4H437.4M429 706V722.8M423.06 708.46L434.94 720.34M423.06 720.34L434.94 708.46" stroke="#000" stroke-width="2.85" fill="none"/>
<path d="M469.2 731.5H486M477.6 723.1V739.9M471.66 725.56L483.54 737.44M471.66 737.44L483.54 725.56" stroke="#000" stroke-width="2.85" fill="none"/>
<path d="M274.5 604.55H293.9L284.2 621.25Z" stroke="#0000ff" stroke-width="3.1" fill="none" stroke-linejoin="miter"/>
<path d="M419.4 644.45H438.8L429.1 661.15Z" stroke="#0000ff" stroke-width="3.1" fill="none" stroke-linejoin="miter"/>
<path d="M468.5 652.95H487.9L478.2 669.65Z" stroke="#0000ff" stroke-width="3.1" fill="none" stroke-linejoin="miter"/>
<circle cx="283" cy="794.9" r="8.5" stroke="#ff0000" stroke-width="2.85" fill="none"/>
<circle cx="427.9" cy="713.2" r="8.5" stroke="#ff0000" stroke-width="2.85" fill="none"/>
<circle cx="476.4" cy="689" r="8.5" stroke="#ff0000" stroke-width="2.85" fill="none"/>
<circle cx="494.9" cy="633.3" r="10" fill="#ff0000"/>
<circle cx="505" cy="629.3" r="10" fill="#ff0000"/>
<circle cx="509.6" cy="627.6" r="10" fill="#ff0000"/>
<circle cx="513.6" cy="626.2" r="10" fill="#ff0000"/>
<path d="M125.3 881.9L671.2 693.35" stroke="#008000" stroke-width="1.4" fill="none"/>
<g fill="#008000">
<circle cx="125.3" cy="881.9" r="4.15"/>
<circle cx="143.5" cy="875.62" r="4.15"/>
<circle cx="161.69" cy="869.33" r="4.15"/>
<circle cx="179.89" cy="863.04" r="4.15"/>
<circle cx="198.09" cy="856.76" r="4.15"/>
<circle cx="216.28" cy="850.48" r="4.15"/>
<circle cx="234.48" cy="844.19" r="4.15"/>
<circle cx="252.68" cy="837.9" r="4.15"/>
<circle cx="270.87" cy="831.62" r="4.15"/>
<circle cx="289.07" cy="825.34" r="4.15"/>
<circle cx="307.27" cy="819.05" r="4.15"/>
<circle cx="325.46" cy="812.76" r="4.15"/>
<circle cx="343.66" cy="806.48" r="4.15"/>
<circle cx="361.86" cy="800.19" r="4.15"/>
<circle cx="380.05" cy="793.91" r="4.15"/>
<circle cx="398.25" cy="787.62" r="4.15"/>
<circle cx="416.45" cy="781.34" r="4.15"/>
<circle cx="434.64" cy="775.06" r="4.15"/>
<circle cx="452.84" cy="768.77" r="4.15"/>
<circle cx="471.04" cy="762.49" r="4.15"/>
<circle cx="489.23" cy="756.2" r="4.15"/>
<circle cx="507.43" cy="749.91" r="4.15"/>
<circle cx="525.63" cy="743.63" r="4.15"/>
<circle cx="543.82" cy="737.35" r="4.15"/>
<circle cx="562.02" cy="731.06" r="4.15"/>
<circle cx="580.22" cy="724.77" r="4.15"/>
<circle cx="598.41" cy="718.49" r="4.15"/>
<circle cx="616.61" cy="712.2" r="4.15"/>
<circle cx="634.81" cy="705.92" r="4.15"/>
<circle cx="653" cy="699.63" r="4.15"/>
<circle cx="671.2" cy="693.35" r="4.15"/>
</g>
<line x1="125.3" y1="693.65" x2="671.2" y2="693.65" stroke="#4b4b4b" stroke-width="4.2"/>
<line x1="489.33" y1="504.8" x2="489.33" y2="881.9" stroke="#4b4b4b" stroke-width="4.2"/>
<text x="113.9" y="511.1" font-size="25.6" text-anchor="end" letter-spacing="-0.5">1.00</text>
<text x="113.9" y="558.65" font-size="25.6" text-anchor="end" letter-spacing="-0.5">0.75</text>
<text x="113.9" y="606.2" font-size="25.6" text-anchor="end" letter-spacing="-0.5">0.50</text>
<text x="113.9" y="653.75" font-size="25.6" text-anchor="end" letter-spacing="-0.5">0.25</text>
<text x="113.9" y="701.3" font-size="25.6" text-anchor="end" letter-spacing="-0.5">0</text>
<text x="113.1" y="748.85" font-size="25.6" text-anchor="end" letter-spacing="-0.5"><tspan dy="2.4">−</tspan><tspan dy="-2.4" dx="1.2">0.25</tspan></text>
<text x="113.1" y="796.4" font-size="25.6" text-anchor="end" letter-spacing="-0.5"><tspan dy="2.4">−</tspan><tspan dy="-2.4" dx="1.2">0.50</tspan></text>
<text x="113.1" y="843.95" font-size="25.6" text-anchor="end" letter-spacing="-0.5"><tspan dy="2.4">−</tspan><tspan dy="-2.4" dx="1.2">0.75</tspan></text>
<text x="113.1" y="891.5" font-size="25.6" text-anchor="end" letter-spacing="-0.5"><tspan dy="2.4">−</tspan><tspan dy="-2.4" dx="1.2">1.00</tspan></text>
<text x="124.8" y="909.5" font-size="25.6" text-anchor="middle" letter-spacing="-0.25"><tspan dy="2.4">−</tspan><tspan dy="-2.4" dx="0.6">2.0</tspan></text>
<text x="215.78" y="909.5" font-size="25.6" text-anchor="middle" letter-spacing="-0.25"><tspan dy="2.4">−</tspan><tspan dy="-2.4" dx="0.6">1.5</tspan></text>
<text x="306.77" y="909.5" font-size="25.6" text-anchor="middle" letter-spacing="-0.25"><tspan dy="2.4">−</tspan><tspan dy="-2.4" dx="0.6">1.0</tspan></text>
<text x="397.75" y="909.5" font-size="25.6" text-anchor="middle" letter-spacing="-0.25"><tspan dy="2.4">−</tspan><tspan dy="-2.4" dx="0.6">0.5</tspan></text>
<text x="489.23" y="909.5" font-size="25.6" text-anchor="middle" letter-spacing="-0.25">0</text>
<text x="580.22" y="909.5" font-size="25.6" text-anchor="middle" letter-spacing="-0.25">0.5</text>
<text x="672.9" y="909.5" font-size="25.6" text-anchor="middle" letter-spacing="-0.25">1.0</text>
<text x="0.1" y="514" font-size="29.2" text-anchor="start">(<tspan font-style="italic">b</tspan>)</text>
<text transform="translate(32.1 827.8) rotate(-90)" font-size="29.8">Energy budget terms/<tspan font-style="italic">S</tspan></text>
<text x="380.0" y="949" font-size="28.6" font-style="italic">Ri<tspan font-size="23" dy="4.4" dx="-0.8">f</tspan></text>
</g>
<g id="legend">
<rect x="433.2" y="187.3" width="223.2" height="334.9" fill="#fff" stroke="#000" stroke-width="1.55"/>
<line x1="444.1" y1="212.2" x2="528.8" y2="212.2" stroke="#000" stroke-width="3"/>
<line x1="444.1" y1="252.8" x2="528.8" y2="252.8" stroke="#0000ff" stroke-width="3" stroke-dasharray="28.3 16.7"/>
<line x1="444.1" y1="293.8" x2="528.8" y2="293.8" stroke="#ff0000" stroke-width="3" stroke-dasharray="22.7 8.5 5.7 8.6"/>
<line x1="444.1" y1="334.3" x2="528.8" y2="334.3" stroke="#008000" stroke-width="1.4"/>
<circle cx="486.3" cy="334.3" r="4.15" fill="#008000"/>
<path d="M478 374.8H494.8M486.4 366.4V383.2M480.46 368.86L492.34 380.74M480.46 380.74L492.34 368.86" stroke="#000" stroke-width="2.85" fill="none"/>
<path d="M477 409.85H496.4L486.7 426.55Z" stroke="#0000ff" stroke-width="3.1" fill="none" stroke-linejoin="miter"/>
<circle cx="485" cy="454.75" r="8.5" stroke="#ff0000" stroke-width="2.85" fill="none"/>
<circle cx="485.1" cy="495.2" r="10" fill="#ff0000"/>
<text x="541.2" y="218.1" font-size="18.6" font-style="italic">R<tspan font-size="12.7" dy="2.7" letter-spacing="0.25">u</tspan></text>
<text x="541.2" y="258.7" font-size="18.6" font-style="italic">R<tspan font-size="12.7" dy="2.7" letter-spacing="0.25">v</tspan></text>
<text x="541.2" y="299.7" font-size="18.6" font-style="italic">R<tspan font-size="12.7" dy="2.7" letter-spacing="0.25">w</tspan></text>
<text y="336.5" font-size="18.6" font-style="italic"><tspan x="539.9" font-style="normal" font-size="24" dy="3.4">−</tspan><tspan x="554.2" font-size="18.6" dy="-3.4">ε</tspan><tspan x="562" font-size="12.7" dy="1.9">u</tspan><tspan x="571.4" font-size="18.6" dy="-1.9" font-style="normal">,</tspan><tspan x="581" font-style="normal" font-size="24" dy="3.4">−</tspan><tspan x="595" font-size="18.6" dy="-3.4">ε</tspan><tspan x="602.8" font-size="12.7" dy="1.9">v</tspan><tspan x="612" font-size="18.6" dy="-1.9" font-style="normal">,</tspan><tspan x="621.1" font-style="normal" font-size="24" dy="3.4">−</tspan><tspan x="635.2" font-size="18.6" dy="-3.4">ε</tspan><tspan x="643" font-size="12.7" dy="1.9">w</tspan></text>
<text x="541.2" y="381.8" font-size="18.6" font-style="italic">R<tspan font-size="12.7" dy="2.7" letter-spacing="0.25">u,LES</tspan></text>
<text x="541.2" y="423.6" font-size="18.6" font-style="italic">R<tspan font-size="12.7" dy="2.7" letter-spacing="0.25">v,LES</tspan></text>
<text x="541.2" y="462.2" font-size="18.6" font-style="italic">R<tspan font-size="12.7" dy="2.7" letter-spacing="0.25">w,LES</tspan></text>
<text x="541.2" y="503" font-size="18.6" font-style="italic">R<tspan font-size="12.7" dy="2.7" letter-spacing="0.25">w,DNS</tspan></text>
</g>
</svg>
</body></html>
